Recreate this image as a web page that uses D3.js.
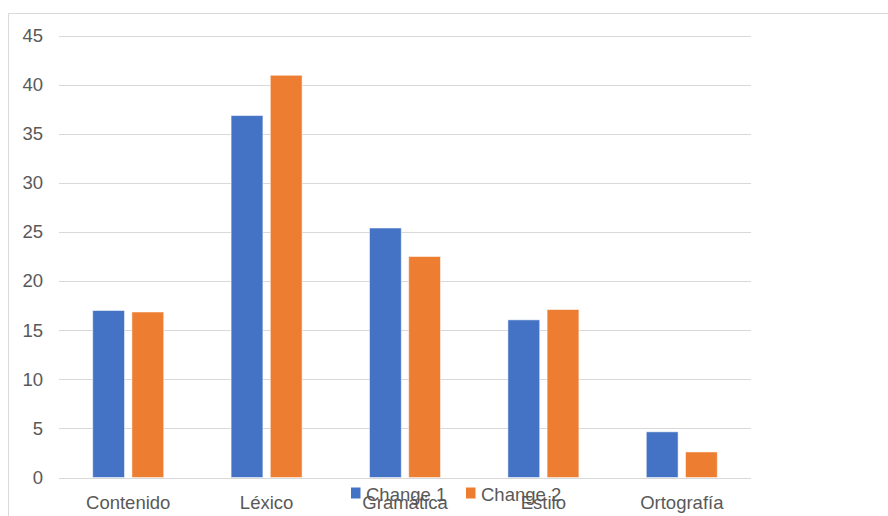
<!DOCTYPE html>
<html>
<head>
<meta charset="utf-8">
<script src="https://cdn.jsdelivr.net/npm/d3@7"></script>
<style>
  html, body { margin: 0; padding: 0; background: #fff; }
  svg { display: block; }
  text { font-family: "Liberation Sans", Arial, sans-serif; fill: #595959; }
</style>
</head>
<body>
<svg id="chart" width="888" height="516"></svg>
<script>
const categories = ["Contenido", "Léxico", "Gramática", "Estilo", "Ortografía"];
const seriesNames = ["Change 1", "Change 2"];
const change1 = [17.0, 36.85, 25.4, 16.05, 4.65];
const change2 = [16.85, 40.95, 22.5, 17.1, 2.6];
const yTicks = [0, 5, 10, 15, 20, 25, 30, 35, 40, 45];
const colors = ["#4472C4", "#ED7D31"];

const svg = d3.select("#chart");
const plot = { left: 59, right: 751, top: 35.5, bottom: 477.5 };

// outer chart border
svg.append("path")
  .attr("d", `M8.5,516 V13.5 H888`)
  .attr("fill", "none").attr("stroke", "#d9d9d9").attr("stroke-width", 1);

const y = d3.scaleLinear().domain([0, 45]).range([plot.bottom, plot.top]);
const x0 = d3.scaleBand().domain(categories).range([plot.left, plot.right])
  .paddingInner(0.487).paddingOuter(0.2435);
const x1 = d3.scaleBand().domain(seriesNames).range([0, x0.bandwidth()]).paddingInner(0.189);

// gridlines
svg.append("g").selectAll("line").data(yTicks).join("line")
  .attr("x1", plot.left).attr("x2", plot.right)
  .attr("y1", d => Math.round(y(d)) + 0.5).attr("y2", d => Math.round(y(d)) + 0.5)
  .attr("stroke", "#d9d9d9").attr("stroke-width", 1);

// y axis labels
const yAxis = d3.axisLeft(y).tickValues(yTicks).tickSize(0).tickPadding(0);
const gy = svg.append("g").attr("transform", `translate(43,0)`).call(yAxis);
gy.select(".domain").remove();
gy.selectAll("text").attr("font-size", "18.5px").attr("fill", "#595959")
  .attr("font-family", "Liberation Sans, Arial, sans-serif");

// bars
const data = categories.map((c, i) => ({ cat: c, vals: [change1[i], change2[i]] }));
const groups = svg.append("g").selectAll("g").data(data).join("g")
  .attr("transform", d => `translate(${x0(d.cat)},0)`);
groups.selectAll("rect").data(d => d.vals.map((v, j) => ({ s: seriesNames[j], v, j })))
  .join("rect")
  .attr("x", d => x1(d.s))
  .attr("width", x1.bandwidth())
  .attr("y", d => y(d.v))
  .attr("height", d => y(0) - y(d.v))
  .attr("fill", d => colors[d.j])
  .attr("stroke", "#ffffff").attr("stroke-opacity", 0.5).attr("stroke-width", 1);

// x axis labels
const xAxis = d3.axisBottom(x0).tickSize(0).tickPadding(0);
const gx = svg.append("g").attr("transform", `translate(0,${plot.bottom})`).call(xAxis);
gx.select(".domain").remove();
gx.selectAll("text").attr("font-size", "18.5px").attr("fill", "#595959")
  .attr("font-family", "Liberation Sans, Arial, sans-serif")
  .attr("dy", null).attr("y", 31);

// legend
const legendX = [351, 466];
const legend = svg.append("g").selectAll("g").data(seriesNames).join("g")
  .attr("transform", (d, i) => `translate(${legendX[i]},0)`);
legend.append("rect").attr("x", 0).attr("y", 487.5).attr("width", 9.5).attr("height", 11)
  .attr("fill", (d, i) => colors[i]);
legend.append("text").attr("x", 15).attr("y", 500.5).attr("font-size", "18.5px").text(d => d);
</script>
</body>
</html>
